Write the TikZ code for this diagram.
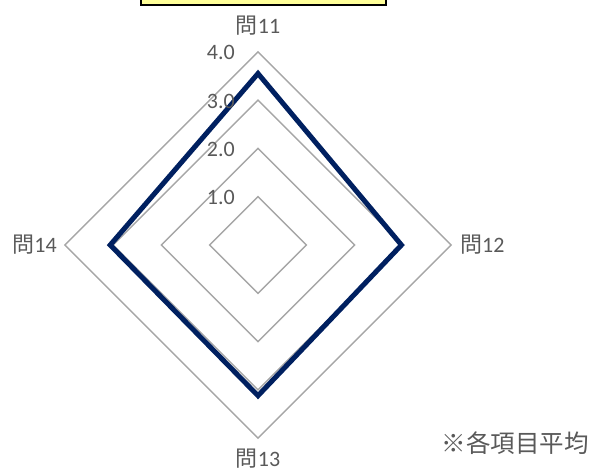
\documentclass[tikz,border=0pt]{standalone}
\usepackage{fontspec}
\usetikzlibrary{calc}
\setmainfont{Carlito}
\newfontfamily\jp{Noto Sans CJK JP}
\definecolor{gridc}{HTML}{A6A6A6}
\definecolor{navy}{HTML}{002060}
\definecolor{txt}{HTML}{595959}
\definecolor{boxy}{HTML}{FFFF99}
\tikzset{
  gridline/.style={draw=gridc, line width=1.4pt, line join=miter},
  dataline/.style={draw=navy, line width=5pt, line join=miter},
  lbl/.style={text=txt, font=\fontsize{22}{24}\selectfont, inner sep=0pt},
  tick/.style={text=txt, font=\fontsize{22}{24}\selectfont, inner sep=0pt, anchor=east},
}
\begin{document}
\begin{tikzpicture}[x=1pt,y=-1pt]
\useasboundingbox (0,0) rectangle (595,471);
\coordinate (c) at (258,245);
\def\u{48.3}
% title box (cut off)
\draw[fill=boxy, draw=black, line width=1.8pt] (141,-20) rectangle (386,5);
% grid
\foreach \k in {1,2,3,4}{
  \draw[gridline] ($(c)+(0,-\k*\u)$) -- ($(c)+(\k*\u,0)$) -- ($(c)+(0,\k*\u)$) -- ($(c)+(-\k*\u,0)$) -- cycle;
}
% data
\coordinate (d1) at ($(c)+(0,-3.55*\u)$);
\coordinate (d2) at ($(c)+(2.97*\u,0)$);
\coordinate (d3) at ($(c)+(0,3.12*\u)$);
\coordinate (d4) at ($(c)+(-3.06*\u,0)$);
\draw[dataline] (d1) -- (d2) -- (d3) -- (d4) -- cycle;
% tick labels
\node[tick] (t1) at (235,197) {1.0};
\node[tick] (t2) at (235,149) {2.0};
\node[tick] (t3) at (235,101) {3.0};
\node[tick] (t4) at (235,52) {4.0};
% axis labels
\node[lbl] (q11) at (258,26) {{\jp 問}11};
\node[lbl, anchor=west] (q12) at (460,245) {{\jp 問}12};
\node[lbl] (q13) at (258,459) {{\jp 問}13};
\node[lbl, anchor=east] (q14) at (57,245) {{\jp 問}14};
\node[text=txt, font=\jp\fontsize{24.5}{26}\selectfont, inner sep=0pt] (note) at (515,443) {※各項目平均};
\end{tikzpicture}
\end{document}
